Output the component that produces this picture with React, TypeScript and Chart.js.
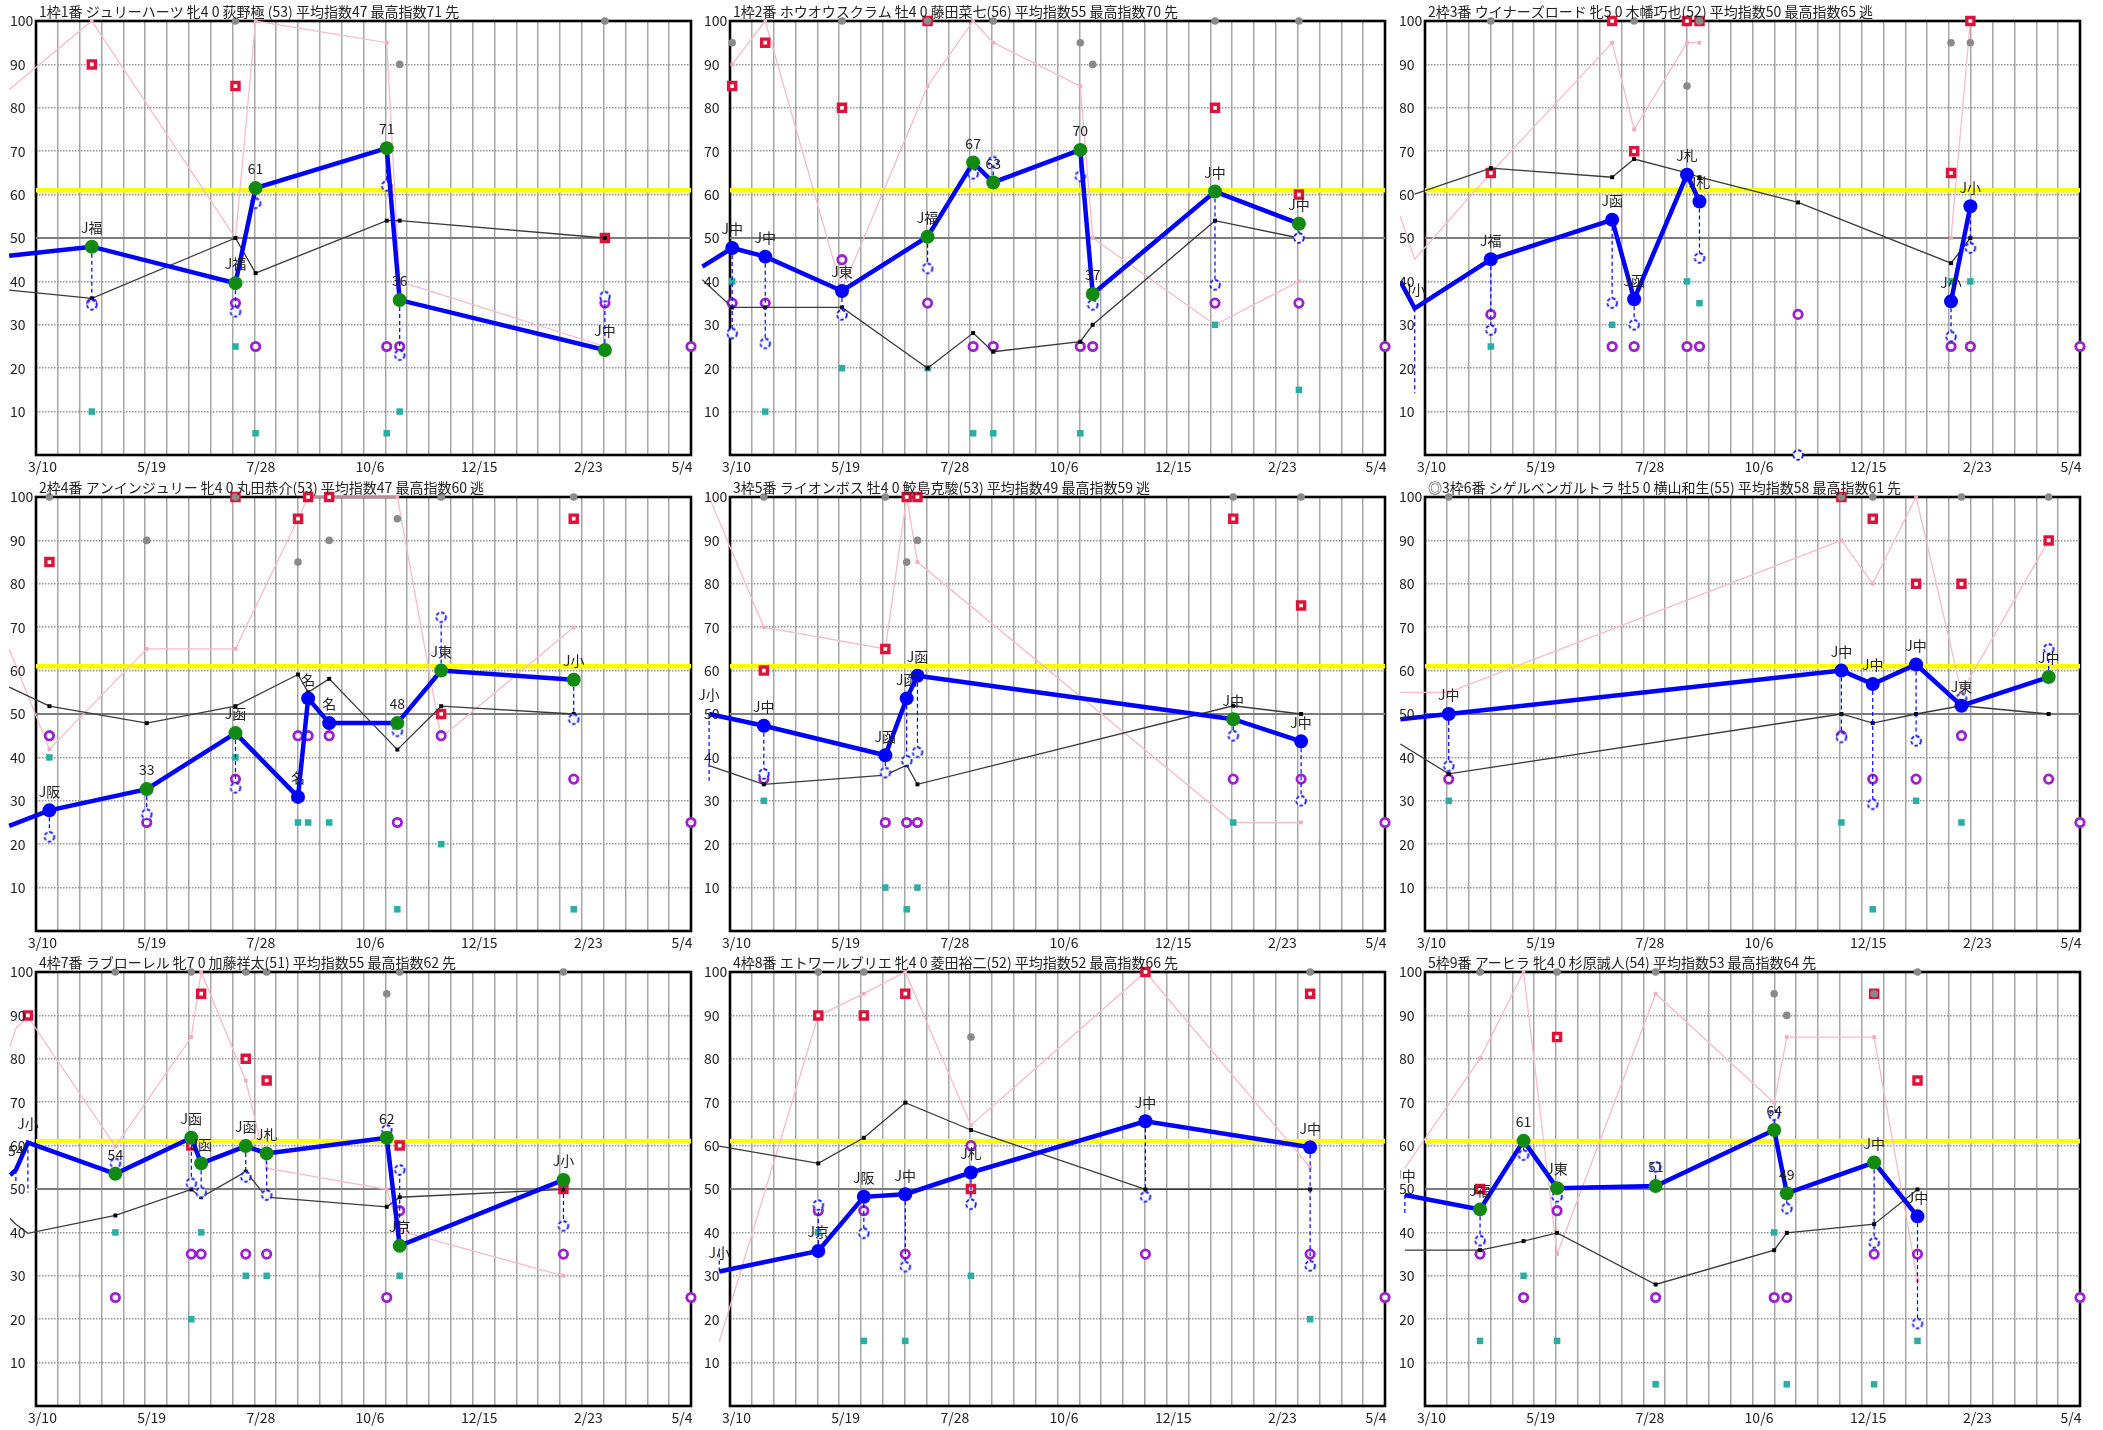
import React, { useEffect, useRef } from "react";
import { Chart, registerables } from "chart.js";
Chart.register(...registerables);

// ---------- axis / reference values ----------
const X_MIN = 0; // 3/10
const X_MAX = 420; // 5/4 (days)
const X_GRID_STEP = 14;
const X_LABEL_STEP = 70;
const X_TICK_LABELS = ["3/10", "5/19", "7/28", "10/6", "12/15", "2/23", "5/4"];
const Y_TICK_VALUES = [10, 20, 30, 40, 50, 60, 70, 80, 90, 100];
const AVERAGE_LINE = 61;
const BASE_LINE = 50;
const CURRENT_X = 420;
const CURRENT_PURPLE = 25;

// ---------- panel 1 ----------
const P1_TITLE = "1枠1番 ジュリーハーツ 牝4 0 荻野極 (53) 平均指数47 最高指数71 先";
const P1_DAYS = [35.8, 127.9, 140.8, 224.9, 233.2, 364.8];
const P1_LEAD = [-17.2, 45.9, 38.0, 84.2];
const P1_INDEX = [48, 39.6, 61.5, 70.7, 35.7, 24.2];
const P1_COLOR = "gggggg";
const P1_LABEL = ["J福", "J福", "61", "71", "36", "J中"];
const P1_SUB = [34.6, 33, 58, 62, 23, 36.5];
const P1_BLACK = [36.1, 50, 41.9, 54, 54, 50];
const P1_PINK = [100, 50, 100, 95, 40, 25];
const P1_RED = [90, 85, null, null, null, 50];
const P1_TEAL = [10, 25, 5, 5, 10, null];
const P1_PURPLE = [35, 35, 25, 25, 25, 35];
const P1_GRAY = [null, 100, null, null, 90, 100];

// ---------- panel 2 ----------
const P2_TITLE = "1枠2番 ホウオウスクラム 牡4 0 藤田菜七(56) 平均指数55 最高指数70 先";
const P2_DAYS = [1.4, 22.6, 71.8, 126.7, 155.9, 168.8, 224.6, 232.6, 311.0, 364.8];
const P2_LEAD = [-17.7, 43.4, 40.4, null];
const P2_INDEX = [47.7, 45.7, 37.8, 50.3, 67.4, 62.8, 70.3, 37.1, 60.7, 53.3];
const P2_COLOR = "bbbggggggg";
const P2_LABEL = ["J中", "J中", "J東", "J福", "67", "63", "70", "37", "J中", "J中"];
const P2_SUB = [28, 25.7, 32.3, 43, 64.8, 67.6, 64.2, 34.6, 39.2, 50];
const P2_BLACK = [34, 34, 34, 20, 28.1, 23.8, 26.1, 30, 54, 50];
const P2_PINK = [90, 100, 38, 85, 100, 95, 85, 50, 30, 40];
const P2_RED = [85, 95, 80, 100, null, null, null, null, 80, 60];
const P2_TEAL = [40, 10, 20, 20, 5, 5, 5, null, 30, 15];
const P2_PURPLE = [35, 35, 45, 35, 25, 25, 25, 25, 35, 35];
const P2_GRAY = [95, null, 100, 100, null, 100, 95, 90, 100, 100];

// ---------- panel 3 ----------
const P3_TITLE = "2枠3番 ウイナーズロード 牝5 0 木幡巧也(52) 平均指数50 最高指数65 逃";
const P3_DAYS = [-6.6, 42.2, 120, 134.1, 168, 176, 239.2, 337.3, 349.7];
const P3_LEAD = [-15.8, 40, null, 55];
const P3_INDEX = [33.8, 45.1, 54.2, 35.9, 64.6, 58.4, null, 35.4, 57.3];
const P3_COLOR = "bbbbbbbbb";
const P3_LABEL = ["J小", "J福", "J函", "J函", "J札", "J札", "", "J小", "J小"];
const P3_SUB = [14.2, 28.8, 35, 30, null, 45.4, 0, 27.3, 47.7];
const P3_BLACK = [60.1, 66.1, 64, 68.2, 65, 64, 58.2, 44.2, 50];
const P3_PINK = [45.1, 65, 95, 75, 95, 95, null, 50, 100];
const P3_RED = [90, 65, 100, 70, 100, 100, null, 65, 100];
const P3_TEAL = [null, 25, 30, 30, 40, 35, null, 40, 40];
const P3_PURPLE = [25, 32.4, 25, 25, 25, 25, 32.4, 25, 25];
const P3_GRAY = [100, 100, null, 100, 85, 100, null, 95, 95];

// ---------- panel 4 ----------
const P4_TITLE = "2枠4番 アンインジュリー 牝4 0 丸田恭介(53) 平均指数47 最高指数60 逃";
const P4_DAYS = [8.6, 71, 127.9, 168, 174.5, 188, 231.7, 259.8, 344.8];
const P4_LEAD = [-17.2, 24.2, 56.2, 65];
const P4_INDEX = [27.8, 32.7, 45.6, 30.9, 53.6, 47.9, 47.9, 60, 57.9];
const P4_COLOR = "bggbbbggg";
const P4_LABEL = ["J阪", "33", "J函", "名", "名", "名", "48", "J東", "J小"];
const P4_SUB = [21.7, 26.9, 33, null, null, null, 46, 72.3, 48.8];
const P4_BLACK = [51.8, 47.9, 51.8, 59.1, 55, 58.1, 41.8, 51.8, 50];
const P4_PINK = [41.9, 65, 65, 95, 100, 100, 100, 44.6, 70];
const P4_RED = [85, null, 100, 95, 100, 100, null, 50, 95];
const P4_TEAL = [40, 25, 40, 25, 25, 25, 5, 20, 5];
const P4_PURPLE = [45, 25, 35, 45, 45, 45, 25, 45, 35];
const P4_GRAY = [100, 90, 100, 85, null, 90, 95, 100, 100];

// ---------- panel 5 ----------
const P5_TITLE = "3枠5番 ライオンボス 牡4 0 鮫島克駿(53) 平均指数49 最高指数59 逃";
const P5_DAYS = [-13.4, 21.7, 99.6, 113.3, 120.2, 322.7, 366.2];
const P5_LEAD: (number | null)[] = [];
const P5_INDEX = [50, 47.3, 40.5, 53.6, 58.8, 48.8, 43.7];
const P5_COLOR = "bbbbbgb";
const P5_LABEL = ["J小", "J中", "J函", "J函", "J函", "J中", "J中"];
const P5_SUB = [34.6, 36.2, 36.5, 39.2, 41.2, 45, 30];
const P5_BLACK = [38.1, 33.8, 35.9, 38.2, 33.8, 51.9, 50];
const P5_PINK = [100, 70, 65, 100, 85, 25, 25];
const P5_RED = [100, 60, 65, 100, 100, 95, 75];
const P5_TEAL = [15, 30, 10, 5, 10, 25, 30];
const P5_PURPLE = [25, 35, 25, 25, 25, 35, 35];
const P5_GRAY = [null, 100, 100, 85, 90, 100, 100];

// ---------- panel 6 ----------
const P6_TITLE = "◎3枠6番 シゲルベンガルトラ 牡5 0 横山和生(55) 平均指数58 最高指数61 先";
const P6_DAYS = [15.2, 267, 287.1, 314.9, 344, 399.9];
const P6_LEAD = [-15.8, 48.8, 43.1, 55];
const P6_INDEX = [50, 60, 56.9, 61.4, 51.9, 58.5];
const P6_COLOR = "bbbbbg";
const P6_LABEL = ["J中", "J中", "J中", "J中", "J東", "J中"];
const P6_SUB = [38, 44.6, 29.2, 43.8, 53.6, 65];
const P6_BLACK = [36.2, 50, 47.9, 50, 51.9, 50];
const P6_PINK = [55, 90, 80, 100, 55, 90];
const P6_RED = [null, 100, 95, 80, 80, 90];
const P6_TEAL = [30, 25, 5, 30, 25, null];
const P6_PURPLE = [35, 45, 35, 35, 45, 35];
const P6_GRAY = [100, 100, 100, null, 100, 100];

// ---------- panel 7 ----------
const P7_TITLE = "4枠7番 ラブローレル 牝7 0 加藤祥太(51) 平均指数55 最高指数62 先";
const P7_DAYS = [-12.9, -5.2, 50.9, 99.6, 105.9, 134.5, 147.9, 224.9, 233.2, 338.2];
const P7_LEAD = [-16.6, 53.2, 43.2, 82.8];
const P7_INDEX = [54.4, 60.7, 53.5, 61.8, 55.9, 59.9, 58.2, 61.8, 36.9, 52.1];
const P7_COLOR = "gggggggggg";
const P7_LABEL = ["54", "J小", "54", "J函", "J函", "J函", "J札", "62", "J京", "J小"];
const P7_SUB = [51.3, 49.2, 55.9, 51.3, 49.2, 52.8, 48.6, 63.6, 54.4, 41.5];
const P7_BLACK = [41.9, 39.8, 43.9, 49.9, 48.1, 54, 48.1, 45.9, 48.1, 49.9];
const P7_PINK = [87, 89.7, 59.8, 85, 100, 75, 54.8, 49.9, 40.4, 30];
const P7_RED = [95, 90, null, 60, 95, 80, 75, null, 60, 50];
const P7_TEAL = [40, null, 40, 20, 40, 30, 30, null, 30, null];
const P7_PURPLE = [35, 35, 25, 35, 35, 35, 35, 25, 45, 35];
const P7_GRAY = [null, null, 100, 100, null, 100, 100, 95, 100, 100];

// ---------- panel 8 ----------
const P8_TITLE = "4枠8番 エトワールブリエ 牝4 0 菱田裕二(52) 平均指数52 最高指数66 先";
const P8_DAYS = [-6.9, 56.6, 85.8, 112.4, 154.5, 266.4, 372];
const P8_LEAD: (number | null)[] = [];
const P8_INDEX = [31, 35.7, 48.2, 48.8, 53.8, 65.6, 59.6];
const P8_COLOR = "gbbbbbb";
const P8_LABEL = ["J小", "J京", "J阪", "J中", "J札", "J中", "J中"];
const P8_SUB = [36.3, 46.3, 39.8, 32.1, 46.5, 48.2, 32.3];
const P8_BLACK = [59.9, 55.9, 61.8, 69.9, 63.6, 49.9, 49.9];
const P8_PINK = [14.8, 89.9, 95, 100, 64.7, 100, 55];
const P8_RED = [50, 90, 90, 95, 50, 100, 95];
const P8_TEAL = [30, 40, 15, 15, 30, null, 20];
const P8_PURPLE = [35, 45, 45, 35, 60, 35, 35];
const P8_GRAY = [null, 100, 100, null, 85, null, 100];

// ---------- panel 9 ----------
const P9_TITLE = "5枠9番 アーヒラ 牝4 0 杉原誠人(54) 平均指数53 最高指数64 先";
const P9_DAYS = [-12.9, 35.3, 63.2, 84.7, 147.9, 223.9, 232, 288, 315.8];
const P9_LEAD: (number | null)[] = [];
const P9_INDEX = [48.6, 45.3, 61.1, 50.2, 50.7, 63.6, 49, 56.1, 43.7];
const P9_COLOR = "ggggggggb";
const P9_LABEL = ["J中", "J福", "61", "J東", "51", "64", "49", "J中", "J中"];
const P9_SUB = [44.4, 38.1, 57.8, 48.2, 55.1, 67, 45.5, 37.6, 19];
const P9_BLACK = [35.9, 35.9, 38, 39.9, 28, 35.9, 39.9, 41.9, 49.9];
const P9_PINK = [54.8, 80.1, 100, 35, 95, 69.9, 85, 85, 29];
const P9_RED = [50, 50, null, 85, null, null, null, 95, 75];
const P9_TEAL = [20, 15, 30, 15, 5, 40, 5, 5, 15];
const P9_PURPLE = [35, 35, 25, 45, 25, 25, 25, 35, 35];
const P9_GRAY = [null, 100, null, 100, 100, 95, 90, 95, 100];

type V = (number | null)[];
type PanelDef = {
  title: string; days: number[]; lead: V; index: V; color: string; label: string[];
  sub: V; black: V; pink: V; red: V; teal: V; purple: V; gray: V; col: number; row: number;
};

const PANELS: PanelDef[] = [
  { title: P1_TITLE, days: P1_DAYS, lead: P1_LEAD, index: P1_INDEX, color: P1_COLOR, label: P1_LABEL, sub: P1_SUB, black: P1_BLACK, pink: P1_PINK, red: P1_RED, teal: P1_TEAL, purple: P1_PURPLE, gray: P1_GRAY, col: 0, row: 0 },
  { title: P2_TITLE, days: P2_DAYS, lead: P2_LEAD, index: P2_INDEX, color: P2_COLOR, label: P2_LABEL, sub: P2_SUB, black: P2_BLACK, pink: P2_PINK, red: P2_RED, teal: P2_TEAL, purple: P2_PURPLE, gray: P2_GRAY, col: 1, row: 0 },
  { title: P3_TITLE, days: P3_DAYS, lead: P3_LEAD, index: P3_INDEX, color: P3_COLOR, label: P3_LABEL, sub: P3_SUB, black: P3_BLACK, pink: P3_PINK, red: P3_RED, teal: P3_TEAL, purple: P3_PURPLE, gray: P3_GRAY, col: 2, row: 0 },
  { title: P4_TITLE, days: P4_DAYS, lead: P4_LEAD, index: P4_INDEX, color: P4_COLOR, label: P4_LABEL, sub: P4_SUB, black: P4_BLACK, pink: P4_PINK, red: P4_RED, teal: P4_TEAL, purple: P4_PURPLE, gray: P4_GRAY, col: 0, row: 1 },
  { title: P5_TITLE, days: P5_DAYS, lead: P5_LEAD, index: P5_INDEX, color: P5_COLOR, label: P5_LABEL, sub: P5_SUB, black: P5_BLACK, pink: P5_PINK, red: P5_RED, teal: P5_TEAL, purple: P5_PURPLE, gray: P5_GRAY, col: 1, row: 1 },
  { title: P6_TITLE, days: P6_DAYS, lead: P6_LEAD, index: P6_INDEX, color: P6_COLOR, label: P6_LABEL, sub: P6_SUB, black: P6_BLACK, pink: P6_PINK, red: P6_RED, teal: P6_TEAL, purple: P6_PURPLE, gray: P6_GRAY, col: 2, row: 1 },
  { title: P7_TITLE, days: P7_DAYS, lead: P7_LEAD, index: P7_INDEX, color: P7_COLOR, label: P7_LABEL, sub: P7_SUB, black: P7_BLACK, pink: P7_PINK, red: P7_RED, teal: P7_TEAL, purple: P7_PURPLE, gray: P7_GRAY, col: 0, row: 2 },
  { title: P8_TITLE, days: P8_DAYS, lead: P8_LEAD, index: P8_INDEX, color: P8_COLOR, label: P8_LABEL, sub: P8_SUB, black: P8_BLACK, pink: P8_PINK, red: P8_RED, teal: P8_TEAL, purple: P8_PURPLE, gray: P8_GRAY, col: 1, row: 2 },
  { title: P9_TITLE, days: P9_DAYS, lead: P9_LEAD, index: P9_INDEX, color: P9_COLOR, label: P9_LABEL, sub: P9_SUB, black: P9_BLACK, pink: P9_PINK, red: P9_RED, teal: P9_TEAL, purple: P9_PURPLE, gray: P9_GRAY, col: 2, row: 2 },
];

// ---------- layout ----------
const COL_PLOT_LEFT = [36, 730, 1425];
const COL_CANVAS_LEFT = [0, 694, 1400];
const ROW_PLOT_TOP = [21, 497, 972];
const PLOT_W = 655;
const PLOT_H = 434;
const PAD_TOP = 21;
const PAD_RIGHT = 10;
const PAD_BOTTOM = 24;

const FONT = '"Noto Sans CJK JP", "Noto Sans", sans-serif';
const BLUE = "#0000ff";
const GREEN = "#128a12";

function makeDashedCircle(): HTMLCanvasElement {
  const c = document.createElement("canvas");
  c.width = 14;
  c.height = 14;
  const g = c.getContext("2d")!;
  g.beginPath();
  g.arc(7, 7, 4.8, 0, Math.PI * 2);
  g.fillStyle = "#ffffff";
  g.fill();
  g.setLineDash([3.5, 2]);
  g.strokeStyle = "#1c1cf0";
  g.lineWidth = 1.9;
  g.stroke();
  return c;
}

function buildConfig(p: PanelDef, dashed: HTMLCanvasElement): any {
  const hasLead = p.lead.length > 0;
  const leadX = hasLead ? (p.lead[0] as number) : 0;

  const lineSeries = (vals: V, leadVal: number | null) => {
    const pts: any[] = [];
    const isLead: boolean[] = [];
    const raceIdx: number[] = [];
    if (hasLead && leadVal != null) {
      pts.push({ x: leadX, y: leadVal });
      isLead.push(true);
      raceIdx.push(-1);
    }
    p.days.forEach((d, i) => {
      pts.push({ x: d, y: vals[i] });
      isLead.push(false);
      raceIdx.push(i);
    });
    return { pts, isLead, raceIdx };
  };
  const scatter = (vals: V) =>
    p.days.map((d, i) => ({ x: d, y: vals[i] })).filter((q) => q.y != null);

  const blue = lineSeries(p.index, hasLead ? p.lead[1] : null);
  const blueColors = blue.raceIdx.map((i) => (i >= 0 && p.color[i] === "g" ? GREEN : BLUE));
  const blueRadius = blue.isLead.map((l) => (l ? 0 : 7));
  const blueLabels = blue.raceIdx.map((i) => (i >= 0 ? p.label[i] : ""));

  const black = lineSeries(p.black, hasLead ? p.lead[2] : null);
  const pink = lineSeries(p.pink, hasLead ? p.lead[3] : null);

  const conn: any[] = [];
  p.days.forEach((d, i) => {
    if (p.index[i] != null && p.sub[i] != null) {
      conn.push({ x: d, y: p.index[i] }, { x: d, y: p.sub[i] }, { x: d, y: null });
    }
  });

  const purple = scatter(p.purple).concat([{ x: CURRENT_X, y: CURRENT_PURPLE }]);

  const datasets: any[] = [
    {
      label: "index", order: 0, data: blue.pts, borderColor: BLUE, borderWidth: 4.5,
      pointRadius: blueRadius, pointBackgroundColor: blueColors, pointBorderColor: blueColors,
      pointBorderWidth: 0, spanGaps: false, clip: false, tension: 0,
    },
    {
      label: "sub", order: 1, data: scatter(p.sub), showLine: false, pointStyle: dashed,
      pointRadius: 5, clip: false,
    },
    {
      label: "conn", order: 2, data: conn, borderColor: BLUE, borderWidth: 1.2,
      borderDash: [4, 3], pointRadius: 0, spanGaps: false, clip: false,
    },
    {
      label: "black", order: 3, data: black.pts, borderColor: "#3a3a3a", borderWidth: 1.3,
      pointStyle: "rect", pointRadius: black.isLead.map((l) => (l ? 0 : 2.8)),
      pointBackgroundColor: "#000", pointBorderColor: "#000", pointBorderWidth: 0,
      spanGaps: false, clip: false,
    },
    {
      label: "gray", order: 4, data: scatter(p.gray), showLine: false, pointStyle: "circle",
      pointRadius: 3.8, pointBackgroundColor: "#8a8a8a", pointBorderColor: "#8a8a8a",
      pointBorderWidth: 0, clip: false,
    },
    {
      label: "red", order: 5, data: scatter(p.red), showLine: false, pointStyle: "rect",
      pointRadius: 5, pointBackgroundColor: "#ffffff", pointBorderColor: "#dc143c",
      pointBorderWidth: 3.4, clip: false,
    },
    {
      label: "purple", order: 6, data: purple, showLine: false, pointStyle: "circle",
      pointRadius: 4.2, pointBackgroundColor: "#ffffff", pointBorderColor: "#9c1fd0",
      pointBorderWidth: 2.8, clip: false,
    },
    {
      label: "teal", order: 7, data: scatter(p.teal), showLine: false, pointStyle: "rect",
      pointRadius: 4.6, pointBackgroundColor: "#2aaea3", pointBorderColor: "#2aaea3",
      pointBorderWidth: 0, clip: false,
    },
    {
      label: "pink", order: 8, data: pink.pts, borderColor: "#f7bcc8", borderWidth: 1.3,
      pointStyle: "rect", pointRadius: pink.isLead.map((l) => (l ? 0 : 2.6)),
      pointBackgroundColor: "#f4aabb", pointBorderColor: "#f4aabb", pointBorderWidth: 0,
      spanGaps: false, clip: false,
    },
    {
      label: "avg", order: 9, data: [{ x: X_MIN, y: AVERAGE_LINE }, { x: X_MAX, y: AVERAGE_LINE }],
      borderColor: "#ffff00", borderWidth: 4.5, pointRadius: 0, clip: false,
    },
    {
      label: "base", order: 10, data: [{ x: X_MIN, y: BASE_LINE }, { x: X_MAX, y: BASE_LINE }],
      borderColor: "#7c7c7c", borderWidth: 2, pointRadius: 0, clip: false,
    },
  ];

  const decor = {
    id: "decor",
    beforeDatasetsDraw(chart: any) {
      const { ctx, chartArea: a } = chart;
      ctx.save();
      ctx.strokeStyle = "#000";
      ctx.lineWidth = 2.6;
      ctx.strokeRect(a.left, a.top, a.right - a.left, a.bottom - a.top);
      ctx.restore();
    },
    afterDatasetsDraw(chart: any) {
      const { ctx } = chart;
      const meta = chart.getDatasetMeta(0);
      ctx.save();
      ctx.font = `14px ${FONT}`;
      ctx.fillStyle = "#222";
      ctx.textAlign = "center";
      ctx.textBaseline = "middle";
      meta.data.forEach((el: any, k: number) => {
        const t = blueLabels[k];
        if (!t || el.skip) return;
        ctx.fillText(t, el.x, el.y - 19);
      });
      ctx.restore();
    },
    afterDraw(chart: any) {
      const { ctx, chartArea: a, scales } = chart;
      ctx.save();
      ctx.fillStyle = "#222";
      ctx.font = `14px ${FONT}`;
      ctx.textAlign = "left";
      ctx.textBaseline = "middle";
      ctx.fillText(p.title, a.left + 3, a.top - 9.5);
      Y_TICK_VALUES.forEach((v) => {
        ctx.fillText(String(v), a.left - 26, scales.y.getPixelForValue(v));
      });
      ctx.textAlign = "center";
      X_TICK_LABELS.forEach((t, i) => {
        let x = scales.x.getPixelForValue(X_MIN + i * X_LABEL_STEP) + 6.5;
        if (x > a.right - 9) x = a.right - 9;
        ctx.fillText(t, x, a.bottom + 12);
      });
      ctx.restore();
    },
  };

  return {
    type: "line",
    data: { datasets },
    options: {
      responsive: false,
      animation: false,
      devicePixelRatio: 1,
      events: [],
      layout: {
        padding: {
          left: COL_PLOT_LEFT[p.col] - COL_CANVAS_LEFT[p.col],
          top: PAD_TOP,
          right: PAD_RIGHT,
          bottom: PAD_BOTTOM,
        },
      },
      plugins: { legend: { display: false }, tooltip: { enabled: false } },
      scales: {
        x: {
          type: "linear",
          afterDataLimits: (s: any) => {
            s.min = X_MIN;
            s.max = X_MAX;
          },
          ticks: { display: false, stepSize: X_GRID_STEP, maxTicksLimit: 100 },
          grid: { color: "#a6a6a6", lineWidth: 1.5, drawTicks: false },
          border: { display: false },
        },
        y: {
          type: "linear",
          min: 0,
          max: 100,
          ticks: { display: false, stepSize: 10 },
          grid: {
            color: (c: any) => (c.tick && c.tick.value === BASE_LINE ? "rgba(0,0,0,0)" : "#939393"),
            lineWidth: 1.6,
            drawTicks: false,
          },
          border: { display: false, dash: [1.5, 1.5] },
        },
      },
    },
    plugins: [decor],
  };
}

function PanelChart({ panel }: { panel: PanelDef }) {
  const ref = useRef<HTMLCanvasElement>(null);
  useEffect(() => {
    if (!ref.current) return;
    const chart = new Chart(ref.current, buildConfig(panel, makeDashedCircle()));
    return () => chart.destroy();
  }, [panel]);
  const left = COL_CANVAS_LEFT[panel.col];
  const top = ROW_PLOT_TOP[panel.row] - PAD_TOP;
  const w = COL_PLOT_LEFT[panel.col] - left + PLOT_W + PAD_RIGHT;
  const h = PAD_TOP + PLOT_H + PAD_BOTTOM;
  return (
    <canvas
      ref={ref}
      width={w}
      height={h}
      style={{ position: "absolute", left, top, width: w, height: h }}
    />
  );
}

export default function App() {
  return (
    <div
      style={{
        position: "absolute",
        left: 0,
        top: 0,
        width: 2103,
        height: 1430,
        background: "#ffffff",
        overflow: "hidden",
      }}
    >
      {PANELS.map((p, i) => (
        <PanelChart key={i} panel={p} />
      ))}
    </div>
  );
}
